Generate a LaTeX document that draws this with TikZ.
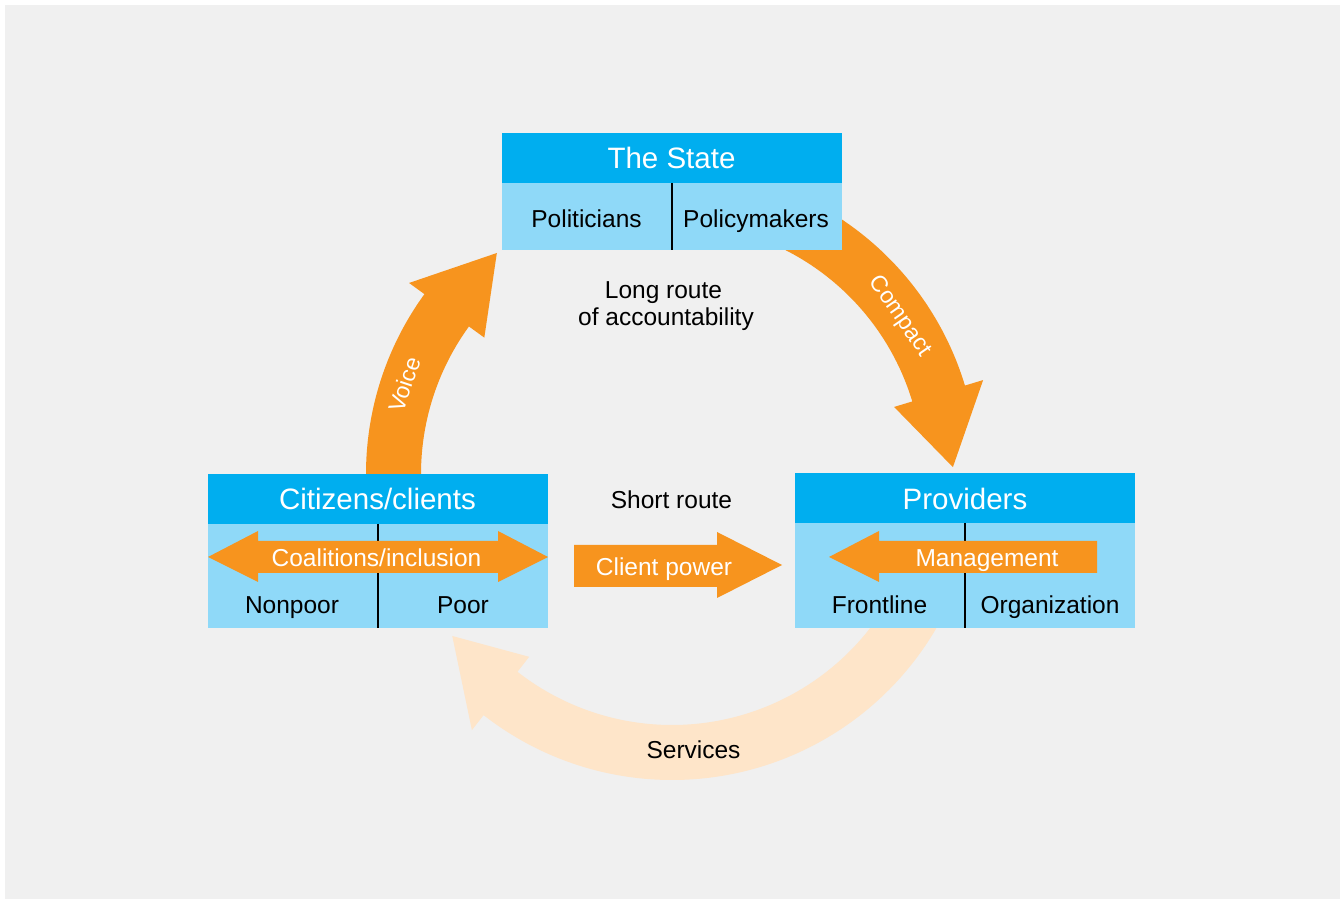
\documentclass[tikz,border=0pt]{standalone}
\usepackage{fontspec}
\setmainfont{Liberation Sans}
\definecolor{bg}{HTML}{F0F0F0}
\definecolor{dblue}{HTML}{00AEEF}
\definecolor{lblue}{HTML}{8FD9F8}
\definecolor{orng}{HTML}{F7941E}
\definecolor{peach}{HTML}{FEE5C9}
\newcommand\curvarrow[5]{%
  \fill[#1] (#2:306) arc[start angle=#2,end angle=#3,radius=306pt]
    -- (#3:325) -- (#4:#5) -- (#3:232) -- (#3:251)
    arc[start angle=#3,end angle=#2,radius=251pt] -- cycle;}
\begin{document}
\begin{tikzpicture}[x=1pt,y=1pt,
  titletext/.style={anchor=base,text=white,inner sep=0pt,font=\fontsize{29.5}{34}\selectfont},
  bodytext/.style={anchor=base,text=black,inner sep=0pt,font=\fontsize{24.5}{29}\selectfont},
  arrowtext/.style={anchor=base,text=white,inner sep=0pt,font=\fontsize{24.5}{29}\selectfont},
  arctext/.style={text=white,inner sep=0pt,font=\fontsize{23}{27}\selectfont},
  divider/.style={line width=2pt,black},
  flatarrow/.style={fill=orng}]
\useasboundingbox (0,0) rectangle (1343,902);
\fill[white] (0,0) rectangle (1343,902);
\fill[bg] (5,3) rectangle (1340,897);

% curved arrows around the centre of the cycle
\begin{scope}[shift={(672,428)}]
  \curvarrow{orng}{185}{144}{128.4}{282}
  \curvarrow{orng}{72}{16.8}{1.4}{281}
  \curvarrow{peach}{-25}{-128}{-143.6}{273}
  \node[arctext,rotate=71.6] (voice) at (161.5:282) {Voice};
  \node[arctext,rotate=-55.3] (compact) at (34.7:277) {Compact};
\end{scope}

% The State
\fill[dblue] (502,769) rectangle (842,719);
\fill[lblue] (502,719) rectangle (842,652);
\draw[divider] (671.5,719) -- (671.5,652);
% Citizens/clients
\fill[dblue] (208,428) rectangle (548,378);
\fill[lblue] (208,378) rectangle (548,274);
\draw[divider] (378,378) -- (378,274);
% Providers
\fill[dblue] (795,429) rectangle (1135,379);
\fill[lblue] (795,379) rectangle (1135,274);
\draw[divider] (965,379) -- (965,274);

% flat arrows
\fill[flatarrow] (208,345) -- (258,371) -- (258,361) -- (498,361) -- (498,371)
  -- (548,345) -- (498,320) -- (498,329) -- (258,329) -- (258,320) -- cycle;
\fill[flatarrow] (829,345) -- (879,371) -- (879,361) -- (1097,361) -- (1097,329)
  -- (879,329) -- (879,320) -- cycle;
\fill[flatarrow] (574,357) -- (717,357) -- (717,370) -- (782,337) -- (717,304)
  -- (717,315) -- (574,315) -- cycle;

% texts
\node[titletext] (state) at (671.5,733) {The State};
\node[bodytext] (politicians) at (586.5,674) {Politicians};
\node[bodytext] (policymakers) at (756,674) {Policymakers};
\node[titletext] (citizens) at (377.5,392) {Citizens/clients};
\node[arrowtext] (coalitions) at (376.5,335.5) {Coalitions/inclusion};
\node[bodytext] (nonpoor) at (292,288.5) {Nonpoor};
\node[bodytext] (poor) at (463,288.5) {Poor};
\node[titletext] (providers) at (965,392) {Providers};
\node[arrowtext] (management) at (987,335.5) {Management};
\node[bodytext] (frontline) at (879.5,288.5) {Frontline};
\node[bodytext] (organization) at (1050,288.5) {Organization};
\node[arrowtext] (clientpower) at (664,326.5) {Client power};
\node[bodytext] (shortroute) at (671.5,393) {Short route};
\node[bodytext] (longroute) at (663.5,603) {Long route};
\node[bodytext] (accountability) at (666,576) {of accountability};
\node[bodytext] (services) at (693.5,143.5) {Services};
\end{tikzpicture}
\end{document}
